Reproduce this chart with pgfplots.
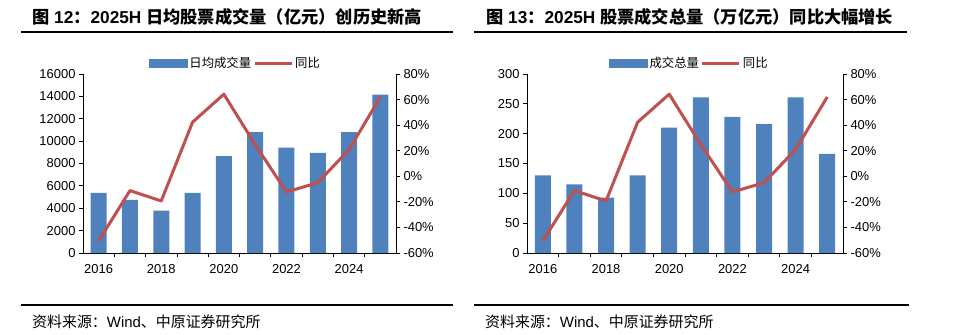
\documentclass[border=0pt]{standalone}
\usepackage{fontspec}
\setmainfont{Liberation Sans}
\newfontfamily\cjk{Noto Sans CJK SC}
\usepackage{pgfplots}
\pgfplotsset{compat=1.18}
\definecolor{barblue}{HTML}{4F81BD}
\definecolor{linered}{HTML}{C0504D}
\pgfplotsset{
  baraxis/.style={
    scale only axis, anchor=south west, height=179bp,
    xmin=-0.5, xmax=9.5, ymin=0,
    axis x line*=bottom, axis y line*=left, axis line style={-, black, line width=0.9bp},
    tick align=outside, major tick length=4bp,
    tick style={black, line width=0.8bp},
    xtick={0.5,1.5,...,8.5}, xticklabels={},
    extra x ticks={0,2,4,6,8}, extra x tick labels={2016,2018,2020,2022,2024},
    extra x tick style={major tick length=0pt, tick label style={yshift=-8bp}},
    ticklabel style={font=\fontsize{13}{15}\selectfont},
    /pgf/number format/assume math mode=true,
    /pgf/number format/1000 sep={},
    scaled y ticks=false,
    clip=false,
  },
  lineaxis/.style={
    scale only axis, anchor=south west, height=179bp,
    xmin=-0.5, xmax=9.5, ymin=-60, ymax=80,
    axis x line=none, axis y line*=right, axis line style={-, black, line width=0.9bp},
    tick align=outside, major tick length=4bp,
    tick style={black, line width=0.8bp},
    ytick={-60,-40,...,80},
    yticklabels={-60\%,-40\%,-20\%,0\%,20\%,40\%,60\%,80\%},
    ticklabel style={font=\fontsize{13}{15}\selectfont},
    legend columns=-1,
    legend style={draw=none, fill=none, font=\cjk\fontsize{12.4}{14}\selectfont,
      /tikz/every even column/.style={column sep=0pt}},
    clip=false,
  },
}
\begin{document}
\begin{tikzpicture}[x=1bp,y=1bp]
\path[use as bounding box] (0,0) rectangle (954,334);
% titles
\node[anchor=west, inner sep=0] at (32,317) {\fontsize{17.3}{19}\selectfont\bfseries{\cjk 图} 12{\cjk ：}2025H {\cjk 日均股票成交量（亿元）创历史新高}};
\node[anchor=west, inner sep=0] at (486,317) {\fontsize{17.3}{19}\selectfont\bfseries{\cjk 图} 13{\cjk ：}2025H {\cjk 股票成交总量（万亿元）同比大幅增长}};
\draw[line width=1.6bp] (21,302) -- (453,302);
\draw[line width=1.6bp] (474,302) -- (907,302);
\draw[line width=1.6bp] (21,29) -- (453,29);
\draw[line width=1.6bp] (474,29) -- (909,29);
\node[anchor=west, inner sep=0] at (32,12) {\fontsize{15}{17}\selectfont{\cjk 资料来源：}Wind{\cjk 、中原证券研究所}};
\node[anchor=west, inner sep=0] at (485,12) {\fontsize{15}{17}\selectfont{\cjk 资料来源：}Wind{\cjk 、中原证券研究所}};

% left panel
\begin{axis}[baraxis, at={(83bp,81bp)}, width=313bp, ymax=16000, ytick={0,2000,...,16000}]
\addplot[ybar, bar width=16bp, fill=barblue, draw=none] coordinates {
(0,5370) (1,4750) (2,3790) (3,5370) (4,8650) (5,10800) (6,9430) (7,8950) (8,10800) (9,14150)};
\end{axis}
\begin{axis}[lineaxis, at={(83bp,81bp)}, width=313bp,
  legend style={at={(0.487,1.061)}, anchor=center}]
\addlegendimage{legend image code/.code={\fill[barblue] (0bp,-4bp) rectangle (38bp,4bp);}}
\addlegendentry{日均成交量}
\addplot[linered, line width=3bp, line join=round,
  legend image code/.code={\draw[linered, line width=3bp] (0bp,0bp) -- (37bp,0bp);}] coordinates {
(0,-50.6) (1,-11.2) (2,-19.3) (3,42.3) (4,64.2) (5,24.8) (6,-12.3) (7,-5) (8,20.9) (9,62)};
\addlegendentry{同比}
\end{axis}

% right panel
\begin{axis}[baraxis, at={(527bp,81bp)}, width=316bp, ymax=300, ytick={0,50,...,300}]
\addplot[ybar, bar width=16bp, fill=barblue, draw=none] coordinates {
(0,130) (1,115) (2,93) (3,130) (4,210) (5,261) (6,228) (7,216) (8,261) (9,166)};
\end{axis}
\begin{axis}[lineaxis, at={(527bp,81bp)}, width=316bp,
  legend style={at={(0.514,1.061)}, anchor=center}]
\addlegendimage{legend image code/.code={\fill[barblue] (0bp,-4bp) rectangle (38bp,4bp);}}
\addlegendentry{成交总量}
\addplot[linered, line width=3bp, line join=round,
  legend image code/.code={\draw[linered, line width=3bp] (0bp,0bp) -- (37bp,0bp);}] coordinates {
(0,-50.6) (1,-11.2) (2,-19.3) (3,42.3) (4,64.2) (5,24.8) (6,-12.3) (7,-5) (8,20.9) (9,62)};
\addlegendentry{同比}
\end{axis}
\end{tikzpicture}
\end{document}
